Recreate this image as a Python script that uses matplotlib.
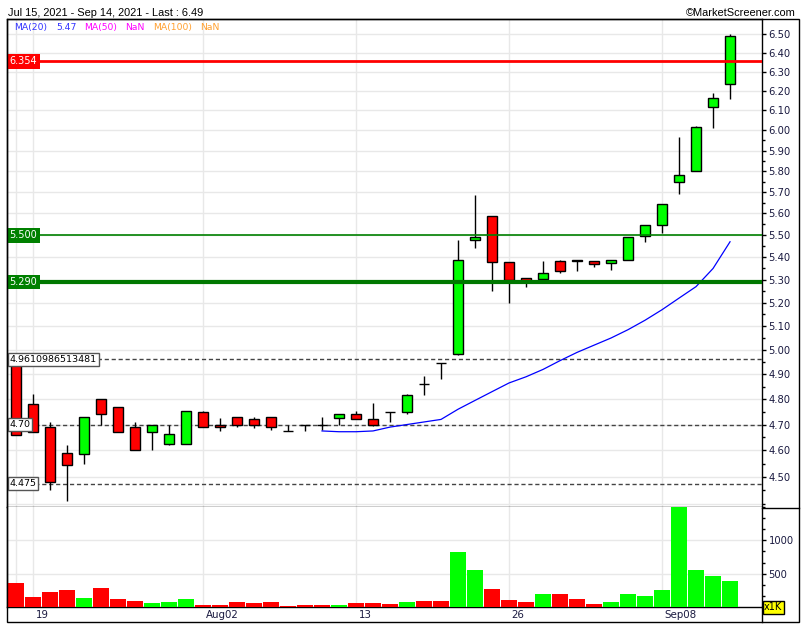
import matplotlib
matplotlib.use('Agg')
import matplotlib.pyplot as plt
import numpy as np
import matplotlib.transforms as mtrans
from matplotlib.ticker import FixedLocator, FuncFormatter, NullFormatter, MultipleLocator
from matplotlib.patches import Rectangle
from matplotlib.lines import Line2D

# ---------------- data ----------------
dates = ['2021-07-16',
         '2021-07-19', '2021-07-20', '2021-07-21', '2021-07-22', '2021-07-23',
         '2021-07-26', '2021-07-27', '2021-07-28', '2021-07-29', '2021-07-30',
         '2021-08-02', '2021-08-03', '2021-08-04', '2021-08-05', '2021-08-06',
         '2021-08-09', '2021-08-10', '2021-08-11', '2021-08-12', '2021-08-13',
         '2021-08-16', '2021-08-17', '2021-08-18', '2021-08-19', '2021-08-20',
         '2021-08-23', '2021-08-24', '2021-08-25', '2021-08-26', '2021-08-27',
         '2021-08-30', '2021-08-31', '2021-09-01', '2021-09-02', '2021-09-03',
         '2021-09-06', '2021-09-07', '2021-09-08', '2021-09-09', '2021-09-10',
         '2021-09-13', '2021-09-14']

opens = [4.96, 4.78, 4.69, 4.59, 4.585, 4.80, 4.77, 4.69, 4.67, 4.625,
         4.625, 4.75, 4.70, 4.73, 4.72, 4.73, 4.675, 4.70, 4.70, 4.725,
         4.74, 4.72, 4.75, 4.75, 4.86, 4.948, 4.985, 5.48, 5.59, 5.38,
         5.31, 5.305, 5.385, 5.39, 5.385, 5.375, 5.39, 5.495, 5.545, 5.75,
         5.80, 6.115, 6.235]
highs = [4.961, 4.82, 4.71, 4.62, 4.73, 4.80, 4.77, 4.71, 4.70, 4.70,
         4.755, 4.755, 4.725, 4.73, 4.73, 4.73, 4.70, 4.70, 4.73, 4.74,
         4.755, 4.785, 4.75, 4.82, 4.895, 4.948, 5.477, 5.687, 5.59, 5.38,
         5.31, 5.385, 5.39, 5.39, 5.385, 5.39, 5.49, 5.545, 5.645, 5.965,
         6.02, 6.19, 6.50]
lows = [4.66, 4.67, 4.45, 4.41, 4.55, 4.70, 4.67, 4.60, 4.60, 4.62,
        4.625, 4.69, 4.675, 4.69, 4.685, 4.68, 4.675, 4.675, 4.68, 4.70,
        4.72, 4.695, 4.71, 4.74, 4.815, 4.88, 4.98, 5.44, 5.25, 5.20,
        5.27, 5.295, 5.33, 5.34, 5.355, 5.345, 5.39, 5.47, 5.51, 5.69,
        5.80, 6.01, 6.16]
closes = [4.66, 4.67, 4.48, 4.545, 4.73, 4.74, 4.67, 4.60, 4.70, 4.665,
          4.755, 4.69, 4.69, 4.70, 4.70, 4.69, 4.675, 4.70, 4.70, 4.74,
          4.72, 4.70, 4.75, 4.815, 4.86, 4.948, 5.39, 5.49, 5.38, 5.30,
          5.29, 5.33, 5.34, 5.385, 5.37, 5.39, 5.49, 5.545, 5.645, 5.78,
          6.015, 6.165, 6.49]
volumes = [365, 155, 230, 260, 140, 290, 125, 95, 65, 80,
           125, 35, 35, 80, 65, 80, 20, 35, 35, 35,
           65, 65, 50, 80, 95, 95, 830, 560, 275, 110,
           80, 200, 200, 125, 50, 80, 200, 170, 260, 1650,
           560, 470, 395]
ma20_start = 18
ma20 = [4.675, 4.672, 4.672, 4.675, 4.69, 4.70, 4.71, 4.72, 4.76, 4.795,
        4.83, 4.865, 4.89, 4.92, 4.956, 4.99, 5.02, 5.05, 5.085, 5.125,
        5.17, 5.22, 5.27, 5.35, 5.47]

level_lines = [6.354, 5.500, 5.290]
dashed_levels = [4.9610986513481, 4.70, 4.475]
dashed_labels = ['4.9610986513481', '4.70', '4.475']

xtick_dates = ['2021-07-19', '2021-08-02', '2021-08-13', '2021-08-26', '2021-09-08']
xtick_labels = ['19', 'Aug02', '13', '26', 'Sep08']
extra_grid_dates = ['2021-07-16']

price_ticks = [4.5, 4.6, 4.7, 4.8, 4.9, 5.0, 5.1, 5.2, 5.3, 5.4, 5.5,
               5.6, 5.7, 5.8, 5.9, 6.0, 6.1, 6.2, 6.3, 6.4, 6.5]

# ---------------- figure ----------------
W, H = 805, 630
fig = plt.figure(figsize=(W / 100, H / 100), dpi=100)
fig.patch.set_facecolor('white')


def fx(x):
    return x / W


def fy(y):
    return 1 - y / H


L, R = 7, 762
ax = fig.add_axes([fx(L), fy(507), fx(R) - fx(L), fy(19) - fy(507)])
axv = fig.add_axes([fx(L), fy(607), fx(R) - fx(L), fy(507) - fy(607)])

xs = np.arange(len(dates))
opens_a = np.array(opens)
closes_a = np.array(closes)
up = closes_a > opens_a
GREEN = '#00ff00'
RED = '#ff0000'
colors = [GREEN if u else RED for u in up]

GRID = '#e8e8e8'
for a in (ax, axv):
    a.set_xlim(-0.53, 43.88)
    a.set_facecolor('white')
    for s in a.spines.values():
        s.set_color('black')
        s.set_linewidth(1)

# grid
grid_idx = [dates.index(d) for d in extra_grid_dates + xtick_dates]
for gi in grid_idx:
    ax.axvline(gi, color=GRID, lw=1, zorder=0)
    axv.axvline(gi, color=GRID, lw=1, zorder=0)

ax.set_yscale('log')
ax.set_ylim(4.389, 6.581)
for p in [4.4] + price_ticks:
    ax.axhline(p, color=GRID, lw=1, zorder=0)

# candles
ax.vlines(xs, lows, highs, color='black', lw=1, zorder=3)
bottoms = np.minimum(opens_a, closes_a)
heights = np.abs(closes_a - opens_a)
ax.bar(xs, heights, bottom=bottoms, width=0.62, color=colors,
       edgecolor='black', linewidth=1, zorder=4)

# MA20
ax.plot(xs[ma20_start:], ma20, color='#0000ff', lw=0.9, zorder=3.5)

# level lines
ax.axhline(level_lines[0], color='#ff0000', lw=2, zorder=5)
ax.axhline(level_lines[1], color='#008000', lw=1.2, zorder=5)
ax.axhline(level_lines[2], color='#007800', lw=3, zorder=5)
for v in dashed_levels:
    ax.axhline(v, color='#444444', lw=1, ls=(0, (3, 2)), zorder=2)

btr = mtrans.blended_transform_factory(ax.transAxes, ax.transData)
lx = 2.5 / (R - L)
ax.text(lx, level_lines[0], '6.354', transform=btr, color='white', fontsize=7,
        ha='left', va='center', zorder=7,
        bbox=dict(boxstyle='square,pad=0.25', fc='#ff0000', ec='none'))
ax.text(lx, level_lines[1], '5.500', transform=btr, color='white', fontsize=7,
        ha='left', va='center', zorder=7,
        bbox=dict(boxstyle='square,pad=0.25', fc='#008000', ec='none'))
ax.text(lx, level_lines[2], '5.290', transform=btr, color='white', fontsize=7,
        ha='left', va='center', zorder=7,
        bbox=dict(boxstyle='square,pad=0.25', fc='#008000', ec='none'))
for v, lab in zip(dashed_levels, dashed_labels):
    ax.text(lx, v, lab, transform=btr, color='black', fontsize=6.8,
            ha='left', va='center', zorder=7,
            bbox=dict(boxstyle='square,pad=0.2', fc='white', ec='#555555', lw=1))

# price axis
ax.yaxis.tick_right()
ax.yaxis.set_major_locator(FixedLocator(price_ticks))
ax.yaxis.set_major_formatter(FuncFormatter(lambda v, p: f'{v:.2f}'))
minor = [round(4.40 + 0.05 * k, 2) for k in range(0, 32)]
minor = [m for m in minor if m not in price_ticks and m <= 6.0]
ax.yaxis.set_minor_locator(FixedLocator(minor))
ax.yaxis.set_minor_formatter(NullFormatter())
ax.tick_params(axis='y', which='major', direction='out', length=3.2, width=1,
               pad=1.5, labelsize=7.2, labelcolor='#1a1a40', colors='black')
ax.tick_params(axis='y', which='minor', direction='out', length=2.2, width=1)
for lab in ax.get_yticklabels():
    lab.set_color('#1a1a40')
ax.tick_params(axis='x', which='both', bottom=False, labelbottom=False)

# volume
vcolors = colors
axv.bar(xs, volumes, width=0.94, color=vcolors, linewidth=0, zorder=3)
axv.set_ylim(0, 1500)
for v in (500, 1000):
    axv.axhline(v, color=GRID, lw=1, zorder=0)
axv.yaxis.tick_right()
axv.yaxis.set_major_locator(FixedLocator([500, 1000]))
axv.yaxis.set_minor_locator(MultipleLocator(500 / 3))
axv.yaxis.set_minor_formatter(NullFormatter())
axv.tick_params(axis='y', which='major', direction='out', length=3.2, width=1,
                pad=1.5, labelsize=7.2, labelcolor='#1a1a40')
axv.tick_params(axis='y', which='minor', direction='out', length=2.2, width=1)
axv.spines['top'].set_visible(False)
axv.tick_params(axis='x', which='both', bottom=False, labelbottom=False)

# x labels
xtr = mtrans.blended_transform_factory(axv.transData, axv.transAxes) + \
    mtrans.ScaledTranslation(2.5 / 100, 0, fig.dpi_scale_trans)
for d, lab in zip(xtick_dates, xtick_labels):
    axv.text(dates.index(d), -0.085, lab, transform=xtr, ha='left', va='center',
             fontsize=7.4, color='#1a1a40', clip_on=False)

# outer frame and separators
fig.add_artist(Rectangle((fx(7), fy(622)), fx(799) - fx(7), fy(19) - fy(622),
                         transform=fig.transFigure, fill=False, ec='black', lw=1))
fig.add_artist(Line2D([fx(762), fx(799)], [fy(507.5), fy(507.5)],
                      transform=fig.transFigure, color='black', lw=1))
fig.add_artist(Line2D([fx(762), fx(762)], [fy(607), fy(622)],
                      transform=fig.transFigure, color='black', lw=1))

# x1K box
fig.text(fx(764), fy(607.5), 'x1K', fontsize=7, ha='left', va='center', color='black',
         bbox=dict(boxstyle='square,pad=0.15', fc='#ffff00', ec='black', lw=1), zorder=10)

# header
fig.text(fx(8), fy(13.5), 'Jul 15, 2021 - Sep 14, 2021 - Last : 6.49',
         family='Liberation Sans', fontsize=7.9, ha='left', va='center', color='black')
fig.text(fx(796), fy(13.5), '\u00a9MarketScreener.com',
         family='Liberation Sans', fontsize=7.9, ha='right', va='center', color='black')

legend_items = [(14, 'MA(20)', '#3333ff'), (56, '5.47', '#3333ff'),
                (84, 'MA(50)', '#ff00ff'), (125, 'NaN', '#ff00ff'),
                (153, 'MA(100)', '#ffa030'), (200, 'NaN', '#ffa030')]
for x, t, c in legend_items:
    fig.text(fx(x), fy(27.5), t, fontsize=6.7, ha='left', va='center', color=c)

fig.savefig('out.png', dpi=100)
